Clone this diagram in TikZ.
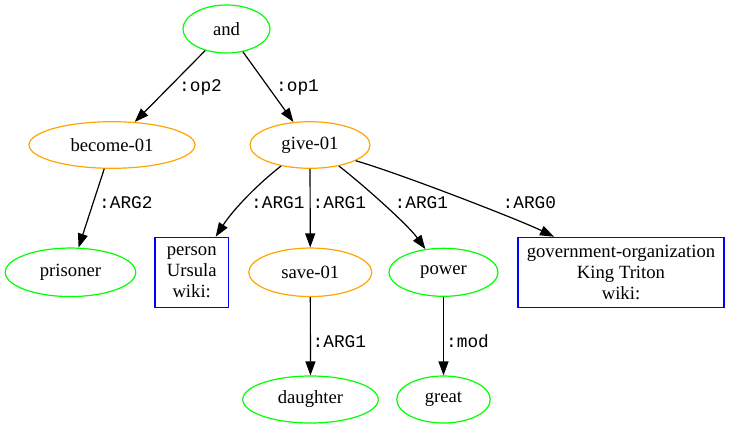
\documentclass[tikz,border=0pt]{standalone}
\usepackage{fontspec}
\setmainfont{Liberation Serif}
\setmonofont{Liberation Mono}
\usetikzlibrary{shapes.geometric,arrows.meta}
\definecolor{gvgreen}{HTML}{00FF00}
\definecolor{gvorange}{HTML}{FFA500}
\definecolor{gvblue}{HTML}{0000FF}
\tikzset{
  x=1pt, y=1pt,
  every node/.style={font=\fontsize{18.67pt}{20.7pt}\selectfont},
  ell/.style={ellipse, draw, line width=1.2pt, inner sep=0pt},
  cnode/.style={ell, draw=gvgreen},
  vnode/.style={ell, draw=gvorange},
  enode/.style={rectangle, draw=gvblue, line width=1.2pt, inner sep=0pt, align=center},
  edge/.style={draw=black, line width=1.2pt, -{Triangle[length=14pt,width=10pt]}},
  elabel/.style={anchor=west, inner sep=0pt, font=\ttfamily\fontsize{17.8pt}{20pt}\selectfont}
}
\begin{document}
\begin{tikzpicture}
\useasboundingbox (0,0) rectangle (729,-429);
% nodes
\node[cnode, minimum width=87pt, minimum height=48pt] (and) at (226.5,-29) {and};
\node[vnode, minimum width=166pt, minimum height=46.6pt] (become) at (112,-145) {become-01};
\node[vnode, minimum width=120pt, minimum height=46.6pt] (give) at (310,-145) {give-01};
\node[cnode, minimum width=130.5pt, minimum height=48.5pt] (prisoner) at (70.5,-272.3) {prisoner};
\node[enode, minimum width=73.3pt, minimum height=70pt] (person) at (191.7,-272.3) {person\\Ursula\\wiki:};
\node[vnode, minimum width=123pt, minimum height=48.5pt] (save) at (310.3,-272.3) {save-01};
\node[cnode, minimum width=109pt, minimum height=48pt] (power) at (443.5,-272.3) {power};
\node[enode, minimum width=206pt, minimum height=70pt] (gov) at (621,-272.3) {government-organization\\King Triton\\wiki:};
\node[cnode, minimum width=135.5pt, minimum height=47pt] (daughter) at (310.5,-399.5) {daughter};
\node[cnode, minimum width=93.5pt, minimum height=47pt] (great) at (443.5,-399.5) {great};
% edges
\draw[edge] (and) -- (become);
\draw[edge] (and) -- (give);
\draw[edge] (become) -- (prisoner);
\draw[edge] (give.216) .. controls +(-22,-17) and +(18,28) .. (person.56);
\draw[edge] (give) -- (save);
\draw[edge] (give.324) .. controls +(22,-17) and +(-18,25) .. (power.128.5);
\draw[edge] (give.341.6) .. controls +(42,-12) and +(-35,17) .. (gov.152.7);
\draw[edge] (save) -- (daughter);
\draw[edge] (power) -- (great);
% labels
\node[elabel] (l1) at (179,-87) {:op2};
\node[elabel] (l2) at (276,-87) {:op1};
\node[elabel] (l3) at (99,-202.5) {:ARG2};
\node[elabel] (l4) at (251,-202.5) {:ARG1};
\node[elabel] (l5) at (312.5,-202.5) {:ARG1};
\node[elabel] (l6) at (394.5,-202.5) {:ARG1};
\node[elabel] (l7) at (502.5,-202.5) {:ARG0};
\node[elabel] (l8) at (312.5,-341.5) {:ARG1};
\node[elabel] (l9) at (446,-341.5) {:mod};
\end{tikzpicture}
\end{document}
